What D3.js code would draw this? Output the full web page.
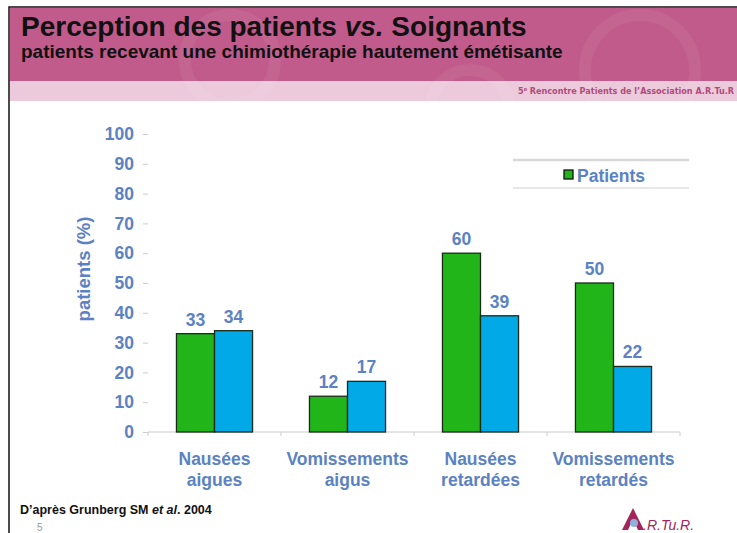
<!DOCTYPE html>
<html>
<head>
<meta charset="utf-8">
<script src="https://cdn.jsdelivr.net/npm/d3@7"></script>
<style>
  body { margin: 0; background: #fff; }
  svg { display: block; font-family: "Liberation Sans", Arial, sans-serif; }
</style>
</head>
<body>
<div class="vis-bars"></div>
<script>
const categories = [['Nausées', 'aigues'], ['Vomissements', 'aigus'], ['Nausées', 'retardées'], ['Vomissements', 'retardés']];
const patients = [33, 12, 60, 50];
const soignants = [34, 17, 39, 22];
const yTicks = [0, 10, 20, 30, 40, 50, 60, 70, 80, 90, 100];

const W = 737, H = 533;
const blueText = '#5b82c2';

const svg = d3.select('.vis-bars')
    .append('svg')
    .attr('width', W)
    .attr('height', H);

// slide frame + header
svg.append('rect').attr('x', 9).attr('y', 7).attr('width', W).attr('height', H)
    .attr('fill', '#fff').attr('stroke', '#111').attr('stroke-width', 1.5);
svg.append('rect').attr('x', 10).attr('y', 8).attr('width', W).attr('height', 73).attr('fill', '#c05b8b');
svg.append('rect').attr('x', 10).attr('y', 81).attr('width', W).attr('height', 20).attr('fill', '#eccadb');
// faint decorative swirls
const deco = svg.append('g').attr('fill', 'none').attr('stroke', '#fff').attr('stroke-opacity', 0.06).attr('stroke-width', 12);
deco.append('circle').attr('cx', 230).attr('cy', 60).attr('r', 45);
deco.append('circle').attr('cx', 640).attr('cy', 70).attr('r', 55);
deco.append('circle').attr('cx', 470).attr('cy', 110).attr('r', 40);

svg.append('text').attr('x', 21).attr('y', 36)
    .attr('font-size', 28).attr('font-weight', 'bold').attr('fill', '#111')
    .html('Perception des patients <tspan font-style="italic">vs.</tspan> Soignants');
svg.append('text').attr('x', 21).attr('y', 58)
    .attr('font-size', 19).attr('font-weight', 'bold').attr('fill', '#111')
    .text('patients recevant une chimiothérapie hautement émétisante');
svg.append('text').attr('x', 518).attr('y', 94)
    .attr('font-size', 9).attr('font-weight', 'bold').attr('fill', '#b04a7c')
    .attr('font-family', '"DejaVu Sans Condensed", sans-serif')
    .html('5<tspan font-size="5.5" dy="-3">e</tspan><tspan dy="3"> Rencontre Patients de l\u2019Association A.R.Tu.R</tspan>');

// chart
const margin = { left: 148, right: 57, top: 134, bottom: 101 };
const width = W - margin.left - margin.right;
const g = svg.append('g').attr('transform', 'translate(' + margin.left + ',' + margin.top + ')');

const x = d3.scaleBand().domain(d3.range(categories.length)).range([0, width]);
const y = d3.scaleLinear().domain([0, 100]).range([298, 0]);
const bw = x.bandwidth() * 0.286;

// y axis: ticks only
const yAxis = g.append('g').call(d3.axisLeft(y).tickValues(yTicks).tickSize(5).tickPadding(9));
yAxis.select('.domain').remove();
yAxis.selectAll('.tick line').attr('stroke', '#ccc');
yAxis.selectAll('.tick text').attr('fill', blueText).attr('font-size', 17.5).attr('font-weight', 'bold')
    .attr('font-family', '"Liberation Sans", Arial, sans-serif');

// baseline with category separators
g.append('line').attr('x1', 0).attr('x2', width).attr('y1', y(0)).attr('y2', y(0))
    .attr('stroke', '#ccc').attr('stroke-width', 1.2);
d3.range(categories.length + 1).forEach(i => {
    const xx = i < categories.length ? x(i) : width;
    g.append('line').attr('x1', xx).attr('x2', xx).attr('y1', y(0)).attr('y2', y(0) + 4)
        .attr('stroke', '#ccc');
});

// y label
g.append('text').attr('transform', 'translate(-58,' + (y(50) - 14) + ') rotate(-90)')
    .attr('text-anchor', 'middle').attr('font-size', 18.5).attr('font-weight', 'bold')
    .attr('fill', blueText).text('patients (%)');

const series = [
    { values: patients, color: '#22b51a', off: -bw },
    { values: soignants, color: '#02a9e7', off: 0 }
];
series.forEach(s => {
    s.values.forEach((v, i) => {
        const cx = x(i) + x.bandwidth() / 2 + s.off;
        g.append('rect').attr('x', cx).attr('y', y(v)).attr('width', bw).attr('height', y(0) - y(v))
            .attr('fill', s.color).attr('stroke', '#1a2a1a').attr('stroke-width', 1.3);
        g.append('text').attr('x', cx + bw / 2).attr('y', y(v) - 8)
            .attr('text-anchor', 'middle').attr('font-size', 17.5).attr('font-weight', 'bold')
            .attr('fill', blueText).text(v);
    });
});

// category labels
categories.forEach((c, i) => {
    const t = g.append('text').attr('x', x(i) + x.bandwidth() / 2).attr('y', y(0) + 33)
        .attr('text-anchor', 'middle').attr('font-size', 17.5).attr('font-weight', 'bold').attr('fill', blueText);
    c.forEach((line, j) => {
        t.append('tspan').attr('x', x(i) + x.bandwidth() / 2).attr('dy', j === 0 ? 0 : 21).text(line);
    });
});

// legend
svg.append('line').attr('x1', 513).attr('x2', 689).attr('y1', 160).attr('y2', 160).attr('stroke', '#d8d8d8').attr('stroke-width', 2.5);
svg.append('line').attr('x1', 513).attr('x2', 689).attr('y1', 188).attr('y2', 188).attr('stroke', '#d0d0d0').attr('stroke-width', 1);
svg.append('rect').attr('x', 564).attr('y', 170).attr('width', 9).attr('height', 9)
    .attr('fill', '#22b51a').attr('stroke', '#111').attr('stroke-width', 1.3);
svg.append('text').attr('x', 577).attr('y', 182).attr('font-size', 17.5).attr('font-weight', 'bold')
    .attr('fill', blueText).text('Patients');

// footer
svg.append('text').attr('x', 20).attr('y', 514).attr('font-size', 12.5).attr('font-weight', 'bold').attr('fill', '#111')
    .html('D\u2019après Grunberg SM <tspan font-style="italic">et al</tspan>. 2004');
svg.append('text').attr('x', 37).attr('y', 531).attr('font-size', 10).attr('fill', '#999').text('5');

// logo
svg.append('path').attr('d', 'M622,530 L633,508 L644,530 L638,530 L633,519 L628,530 Z').attr('fill', '#a3245a');
svg.append('circle').attr('cx', 634).attr('cy', 523).attr('r', 4).attr('fill', '#8fb0d8');
svg.append('text').attr('x', 643).attr('y', 530).attr('font-size', 14).attr('font-style', 'italic')
    .attr('fill', '#a3245a').text('.R.Tu.R.');
</script>
</body>
</html>
